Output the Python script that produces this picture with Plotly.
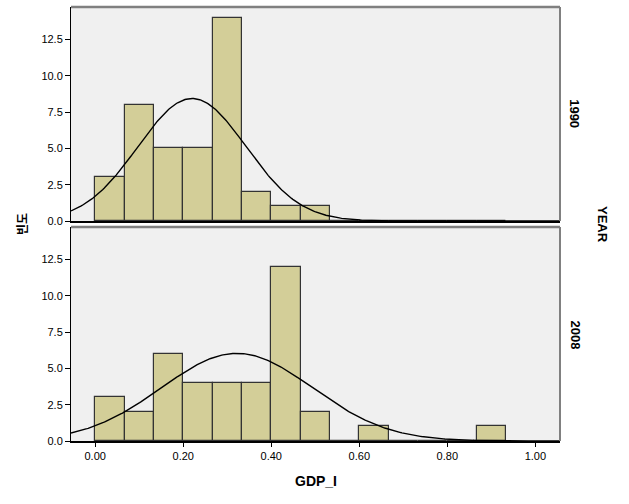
import numpy as np
import plotly.graph_objects as go
from plotly.subplots import make_subplots

# Histogram data (GDP_I by YEAR), bin width 1/15 starting at 0
bin_width = 1 / 15
bin_start = 0.0
counts_1990 = [3, 8, 5, 5, 14, 2, 1, 1, 0, 0, 0, 0, 0, 0]
counts_2008 = [3, 2, 6, 4, 4, 4, 12, 2, 0, 1, 0, 0, 0, 1]
years = ["1990", "2008"]
# Fitted normal curve parameters (mean, std dev, N)
mean_1990, sd_1990, n_1990 = 0.22, 0.123, 39
mean_2008, sd_2008, n_2008 = 0.322, 0.172, 39

x_tick_vals = [0.0, 0.2, 0.4, 0.6, 0.8, 1.0]
y_tick_vals = [0.0, 2.5, 5.0, 7.5, 10.0, 12.5]

X_RANGE = [-0.055, 1.056]
Y_RANGE = [0, 14.73]

fig = make_subplots(rows=2, cols=1, shared_xaxes=True, vertical_spacing=0.0138)

series = [(counts_1990, mean_1990, sd_1990, n_1990), (counts_2008, mean_2008, sd_2008, n_2008)]
xs = np.linspace(X_RANGE[0], X_RANGE[1], 400)
for i, (counts, m, s, n) in enumerate(series, start=1):
    centers = [bin_start + (k + 0.5) * bin_width for k in range(len(counts))]
    fig.add_trace(go.Bar(x=centers, y=counts, width=bin_width,
                         marker=dict(color="#D3CE98", line=dict(color="#333333", width=1.2)),
                         showlegend=False, hoverinfo="x+y"), row=i, col=1)
    ys = n * bin_width / (s * np.sqrt(2 * np.pi)) * np.exp(-((xs - m) ** 2) / (2 * s ** 2))
    fig.add_trace(go.Scatter(x=xs, y=ys, mode="lines", line=dict(color="black", width=1.4),
                             showlegend=False, hoverinfo="skip"), row=i, col=1)

tickfont = dict(family="Liberation Sans, Arial", size=11, color="black")
for i in (1, 2):
    fig.update_xaxes(range=X_RANGE, tickvals=x_tick_vals, tickformat=".2f",
                     showgrid=False, zeroline=False, showline=True, linecolor="black", linewidth=2,
                     ticks="outside" if i == 2 else "", ticklen=4, tickcolor="black",
                     showticklabels=(i == 2), tickfont=tickfont, row=i, col=1)
    fig.update_yaxes(range=Y_RANGE, tickvals=y_tick_vals, tickformat=".1f",
                     showgrid=False, zeroline=False, showline=True, linecolor="black", linewidth=1,
                     ticks="outside", ticklen=5, tickcolor="black", tickfont=tickfont, row=i, col=1)

shapes = []
for ax in ("x", "x2"):
    yref = "y domain" if ax == "x" else "y2 domain"
    shapes.append(dict(type="line", xref=f"{ax} domain", yref=yref, x0=0, x1=1, y0=1, y1=1,
                       line=dict(color="#808080", width=2.5)))
    shapes.append(dict(type="line", xref=f"{ax} domain", yref=yref, x0=1, x1=1, y0=0, y1=1,
                       line=dict(color="#808080", width=2)))

bold = dict(family="Liberation Sans, Arial", size=13, color="black")
annotations = [
    dict(text="<b>1990</b>", x=1.031, y=0.755, xref="paper", yref="paper", textangle=90,
         xanchor="center", yanchor="middle", showarrow=False, font=bold),
    dict(text="<b>2008</b>", x=1.031, y=0.245, xref="paper", yref="paper", textangle=90,
         xanchor="center", yanchor="middle", showarrow=False, font=bold),
    dict(text="<b>YEAR</b>", x=1.088, y=0.5, xref="paper", yref="paper", textangle=90,
         xanchor="center", yanchor="middle", showarrow=False, font=bold),
    dict(text="<b>빈도</b>", x=-0.102, y=0.5, xref="paper", yref="paper", textangle=-90,
         xanchor="center", yanchor="middle", showarrow=False,
         font=dict(family="Noto Sans CJK KR", size=12, color="black")),
    dict(text="<b>GDP_I</b>", x=0.5, y=-0.093, xref="paper", yref="paper",
         xanchor="center", yanchor="middle", showarrow=False,
         font=dict(family="Liberation Sans, Arial", size=14, color="black")),
]

fig.update_layout(width=629, height=504, margin=dict(l=71, r=69, t=7, b=63),
                  paper_bgcolor="white", plot_bgcolor="#F0F0F0", bargap=0,
                  shapes=shapes, annotations=annotations)

fig.write_html("out.html", config={"displayModeBar": False},
               post_script="document.body.style.margin='0px';")
